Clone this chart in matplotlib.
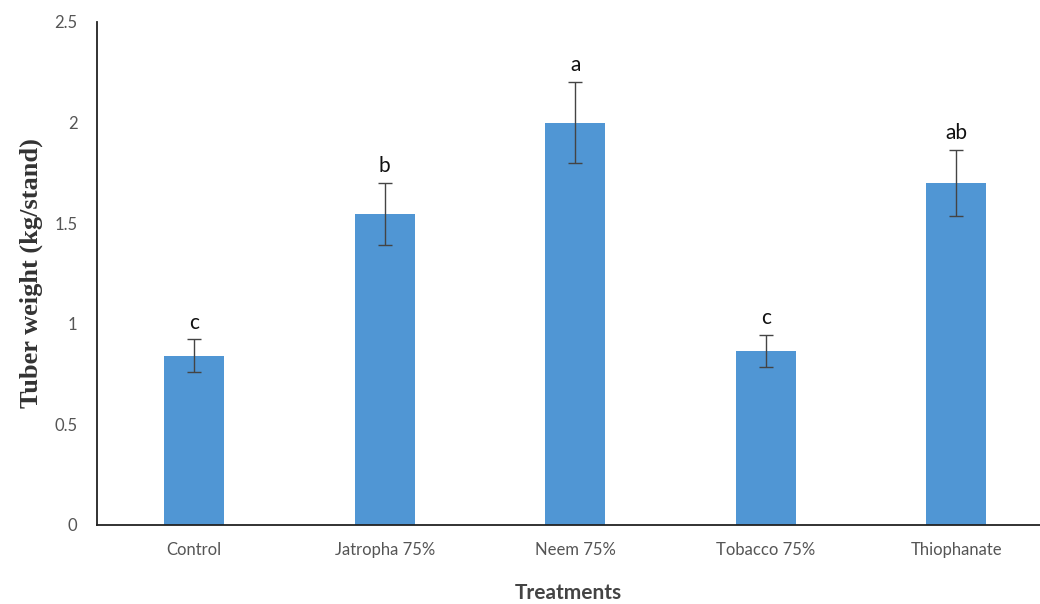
import matplotlib
matplotlib.use("Agg")
import matplotlib.pyplot as plt
import numpy as np

treatments = ["Control", "Jatropha 75%", "Neem 75%", "Tobacco 75%", "Thiophanate"]
weights = [0.84, 1.545, 2.00, 0.865, 1.70]
errors = [0.082, 0.155, 0.20, 0.08, 0.165]
groups = ["c", "b", "a", "c", "ab"]
yticks = [0, 0.5, 1, 1.5, 2, 2.5]
ytick_labels = ["0", "0.5", "1", "1.5", "2", "2.5"]

sans = ["Lato", "DejaVu Sans"]

fig = plt.figure(figsize=(10.4, 6.04), dpi=100)
ax = fig.add_axes([0.0933, 0.1308, 0.9067, 0.8328])

x = np.arange(len(treatments))
ax.bar(x, weights, width=0.315, color="#5096d4", zorder=2)
ax.errorbar(x, weights, yerr=errors, fmt="none", ecolor="#444444",
            elinewidth=1.0, capsize=5, capthick=1.0, zorder=3)

for xi, w, e, g in zip(x, weights, errors, groups):
    ax.annotate(g, (xi, w + e), xytext=(0, 5), textcoords="offset points",
                ha="center", va="bottom", fontsize=15, color="#111111",
                family=sans)

ax.set_xlim(-0.51, 4.44)
ax.set_ylim(0, 2.5)
ax.set_yticks(yticks)
ax.set_yticklabels(ytick_labels)
ax.set_xticks(x)
ax.set_xticklabels(treatments)
for lab in ax.get_xticklabels() + ax.get_yticklabels():
    lab.set_family(sans)
    lab.set_fontsize(12)
    lab.set_color("#555555")
ax.tick_params(axis="both", length=0)
ax.tick_params(axis="y", pad=14)
ax.tick_params(axis="x", pad=12)

for side in ("top", "right"):
    ax.spines[side].set_visible(False)
ax.spines["left"].set_color("#222222")
ax.spines["bottom"].set_color("#222222")
ax.spines["left"].set_linewidth(1.3)
ax.spines["bottom"].set_linewidth(1.3)

ax.set_xlabel("Treatments", fontsize=15, fontweight="bold", color="#444444",
              family=sans, labelpad=18)
ax.set_ylabel("Tuber weight (kg/stand)", fontsize=19, fontweight="bold",
              color="#333333", family=["Liberation Serif", "DejaVu Serif"],
              labelpad=8)

fig.savefig("out.png", dpi=100)
